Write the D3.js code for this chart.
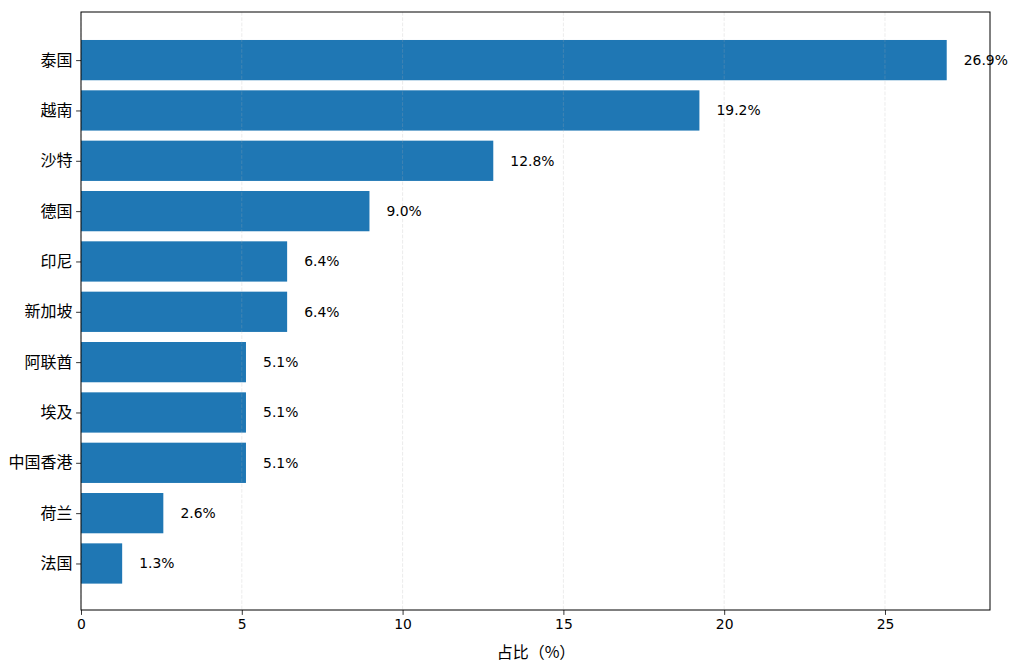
<!DOCTYPE html>
<html><head><meta charset="utf-8">
<script src="https://cdn.jsdelivr.net/npm/d3@7/dist/d3.min.js"></script>
<style>body{margin:0;background:#fff}text{font-family:"DejaVu Sans","Noto Sans CJK SC",sans-serif}</style>
</head><body>
<svg id="c" width="1020" height="671"></svg>
<script>
const categories = ["泰国","越南","沙特","德国","印尼","新加坡","阿联酋","埃及","中国香港","荷兰","法国"];
const values = [26.92,19.23,12.82,8.97,6.41,6.41,5.13,5.13,5.13,2.56,1.28];
const xTicks = [0,5,10,15,20,25];
const xLabel = "占比（%）";

const svg = d3.select("#c");
const L=81,R=990,T=12,B=610;
const x = d3.scaleLinear().domain([0, d3.max(values)*1.05]).range([L,R]);
const y = d3.scaleLinear().domain([-0.94, categories.length-1+0.94]).range([T+0.8,B+0.8]);
const unit = y(1)-y(0);

svg.append("g").selectAll("rect").data(values).join("rect")
  .attr("x", x(0)).attr("y",(d,i)=>y(i)-0.4*unit)
  .attr("width", d=>x(d)-x(0)).attr("height",0.8*unit)
  .attr("fill","#1f77b4");

svg.append("g").selectAll("line").data(xTicks).join("line")
  .attr("x1",d=>x(d)).attr("x2",d=>x(d)).attr("y1",T).attr("y2",B)
  .attr("stroke","#b0b0b0").attr("stroke-opacity",0.3).attr("stroke-dasharray","3.7,1.6").attr("stroke-width",0.8);

svg.append("g").selectAll("text").data(values).join("text")
  .attr("x",d=>x(d+0.5)+1).attr("y",(d,i)=>y(i)).attr("dy","0.35em")
  .attr("font-size","13.9px").attr("fill","#000")
  .text(d=>d.toFixed(1)+"%");

const xa = svg.append("g").attr("transform",`translate(0,${B})`)
  .call(d3.axisBottom(x).tickValues(xTicks).tickSize(4.9).tickPadding(4.5).tickFormat(d3.format("d")));
xa.select(".domain").remove();
xa.selectAll("text").attr("font-size","13.9px").attr("fill","#000").style("font-family",'"DejaVu Sans",sans-serif');
xa.selectAll("line").attr("stroke","#000").attr("stroke-width",0.8);

const ya = svg.append("g").attr("transform",`translate(${L},0)`)
  .call(d3.axisLeft(y).tickValues(d3.range(categories.length)).tickSize(4.9).tickPadding(3.5).tickFormat(i=>categories[i]));
ya.select(".domain").remove();
ya.selectAll("text").attr("font-size","16px").attr("fill","#000").style("font-family",'"Noto Sans CJK SC",sans-serif');
ya.selectAll("line").attr("stroke","#000").attr("stroke-width",0.8);

svg.append("rect").attr("x",L).attr("y",T).attr("width",R-L).attr("height",B-T)
  .attr("fill","none").attr("stroke","#000").attr("stroke-width",1);

svg.append("text").attr("x",(L+R)/2+0.5).attr("y",658).attr("text-anchor","middle")
  .attr("font-size","16px").style("font-family",'"Noto Sans CJK SC",sans-serif').text(xLabel);
</script>
</body></html>
